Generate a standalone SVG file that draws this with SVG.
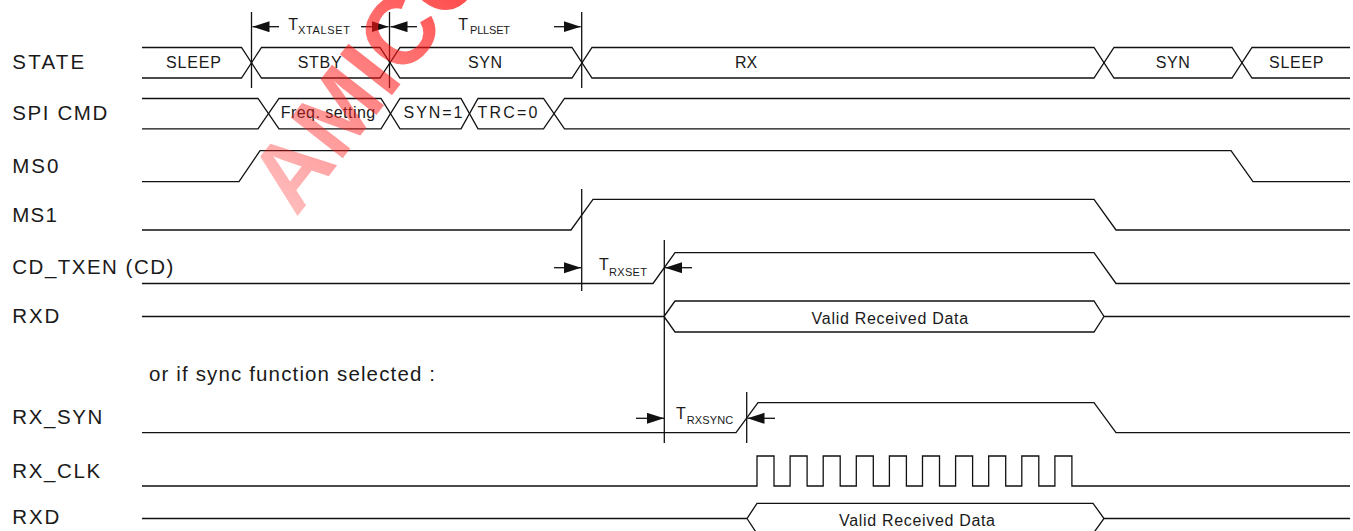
<svg xmlns="http://www.w3.org/2000/svg" width="1353" height="531" viewBox="0 0 1353 531">
<style>
.ln{fill:none;stroke:#111;stroke-width:1.3}
.lab{font-family:"Liberation Sans",Arial,sans-serif;font-size:20.5px;fill:#1a1a1a}
.bt{font-family:"Liberation Sans",Arial,sans-serif;font-size:16px;fill:#1a1a1a}
.tt{font-family:"Liberation Sans",Arial,sans-serif;font-size:16px;fill:#1a1a1a}
.sub{font-family:"Liberation Sans",Arial,sans-serif;font-size:11px;fill:#1a1a1a}
.ar{fill:none;stroke:#111;stroke-width:1.3;marker-end:url(#ah)}
</style>
<defs>
<marker id="ah" markerUnits="userSpaceOnUse" markerWidth="18" markerHeight="12" refX="17" refY="5.5" orient="auto">
<path d="M0,0 L17,5.5 L0,11 z" fill="#111"/>
</marker>
<linearGradient id="wm" x1="0" y1="0" x2="1" y2="0">
<stop offset="0" stop-color="#ff2020" stop-opacity="0.3"/>
<stop offset="0.6" stop-color="#ff1010" stop-opacity="0.75"/>
<stop offset="1" stop-color="#ff0000" stop-opacity="0.95"/>
</linearGradient>
</defs>
<rect width="1353" height="531" fill="#fff"/>

<g id="labels">
<text class="lab" x="12.3" y="69.3" textLength="72" lengthAdjust="spacing">STATE</text>
<text class="lab" x="12.3" y="120" textLength="95" lengthAdjust="spacing">SPI CMD</text>
<text class="lab" x="12.3" y="172.7" textLength="46" lengthAdjust="spacing">MS0</text>
<text class="lab" x="12.3" y="221.7" textLength="44.5" lengthAdjust="spacing">MS1</text>
<text class="lab" x="12.3" y="274.3" textLength="161" lengthAdjust="spacing">CD_TXEN (CD)</text>
<text class="lab" x="12.3" y="322.7" textLength="47" lengthAdjust="spacing">RXD</text>
<text class="lab" x="149" y="381" textLength="286" lengthAdjust="spacing">or if sync function selected :</text>
<text class="lab" x="12.3" y="424" textLength="90" lengthAdjust="spacing">RX_SYN</text>
<text class="lab" x="12.3" y="477.7" textLength="88" lengthAdjust="spacing">RX_CLK</text>
<text class="lab" x="12.3" y="524.3" textLength="47" lengthAdjust="spacing">RXD</text>
</g>

<g id="state">
<path class="ln" d="M142,47.5 H241.5 L261.5,78 H380 L400,47.5 H572 L592,78 H1094 L1114,47.5 H1232 L1252,78 H1350"/>
<path class="ln" d="M142,78 H241.5 L261.5,47.5 H380 L400,78 H572 L592,47.5 H1094 L1114,78 H1232 L1252,47.5 H1350"/>
<text class="bt" x="166" y="67.7" textLength="55" lengthAdjust="spacing">SLEEP</text>
<text class="bt" x="297.7" y="67.7" textLength="44" lengthAdjust="spacing">STBY</text>
<text class="bt" x="468" y="67.7" textLength="34" lengthAdjust="spacing">SYN</text>
<text class="bt" x="746" y="67.7" text-anchor="middle">RX</text>
<text class="bt" x="1155.7" y="67.7" textLength="34" lengthAdjust="spacing">SYN</text>
<text class="bt" x="1269" y="67.7" textLength="54.5" lengthAdjust="spacing">SLEEP</text>
</g>

<g id="spicmd">
<path class="ln" d="M142,98.5 H258 L279,128.8 H381 L400,98.5 H461 L478,128.8 H543.5 L564.5,98.5 H1350"/>
<path class="ln" d="M142,128.8 H258 L279,98.5 H381 L400,128.8 H461 L478,98.5 H543.5 L564.5,128.8 H1350"/>
<text class="bt" x="280.7" y="118.3" textLength="94.5" lengthAdjust="spacing">Freq. setting</text>
<text class="bt" x="403.5" y="118.3" textLength="59" lengthAdjust="spacing">SYN=1</text>
<text class="bt" x="477.5" y="118.3" textLength="60" lengthAdjust="spacing">TRC=0</text>
</g>

<g id="ms0">
<path class="ln" d="M142,181.7 H239 L260,150.7 H1231 L1253,181.7 H1350"/>
</g>
<g id="ms1">
<path class="ln" d="M142,230 H571 L593,199.3 H1094 L1116,230 H1350"/>
</g>
<g id="cdtxen">
<path class="ln" d="M142,283.5 H653 L675,252.7 H1094 L1116,283.5 H1350"/>
</g>
<g id="rxd1">
<path class="ln" d="M142,316.5 H664 L675,301 H1094 L1104,316.5 L1094,332 H675 L664,316.5 M1104,316.5 H1350"/>
<text class="bt" x="811.6" y="323.7" textLength="156.5" lengthAdjust="spacing">Valid Received Data</text>
</g>
<g id="rxsyn">
<path class="ln" d="M142,432.7 H736 L758,402.7 H1094 L1116,432.7 H1350"/>
</g>
<g id="rxclk">
<path class="ln" d="M142,486 H757 V456 H774 V486 H790.1 V456 H807.1 V486 H823.2 V456 H840.2 V486 H856.3 V456 H873.3 V486 H889.4 V456 H906.4 V486 H922.5 V456 H939.5 V486 H955.6 V456 H972.6 V486 H988.7 V456 H1005.7 V486 H1021.8 V456 H1038.8 V486 H1054.9 V456 H1071.9 V486 H1350"/>
</g>
<g id="rxd2">
<path class="ln" d="M142,518.5 H747 L757,503.3 H1093 L1104,518.5 L1093,533.7 H757 L747,518.5 M1104,518.5 H1350"/>
<text class="bt" x="839" y="525.7" textLength="156" lengthAdjust="spacing">Valid Received Data</text>
</g>

<g id="connectors">
<path class="ln" d="M251.5,12 V88 M389.5,12 V88 M581.7,12 V88 M581.7,189 V291 M664.3,240 V443 M746.7,392 V443"/>
<path class="ar" d="M279,26.7 H252.5"/>
<path class="ar" d="M361,26.7 H388.5"/>
<path class="ar" d="M417,26.7 H390.5"/>
<path class="ar" d="M554,26.7 H580.7"/>
<path class="ar" d="M554,267.7 H581"/>
<path class="ar" d="M692,267.7 H665"/>
<path class="ar" d="M636,418.3 H664"/>
<path class="ar" d="M775,418.3 H747.5"/>
</g>

<g id="timing-labels">
<text class="tt" x="288.3" y="30">T</text><text class="sub" x="298" y="34.3" textLength="52" lengthAdjust="spacing">XTALSET</text>
<text class="tt" x="458.3" y="30">T</text><text class="sub" x="470" y="34.3" textLength="40" lengthAdjust="spacing">PLLSET</text>
<text class="tt" x="599" y="270">T</text><text class="sub" x="609" y="276" textLength="38" lengthAdjust="spacing">RXSET</text>
<text class="tt" x="676" y="419.3">T</text><text class="sub" x="686.7" y="424.3" textLength="46.5" lengthAdjust="spacing">RXSYNC</text>
</g>

<g id="watermark">
<text transform="translate(296,218) rotate(-52)" font-family="Liberation Sans,Arial,sans-serif" font-weight="bold" font-size="96" fill="url(#wm)">AMICCOM</text>
</g>
</svg>
